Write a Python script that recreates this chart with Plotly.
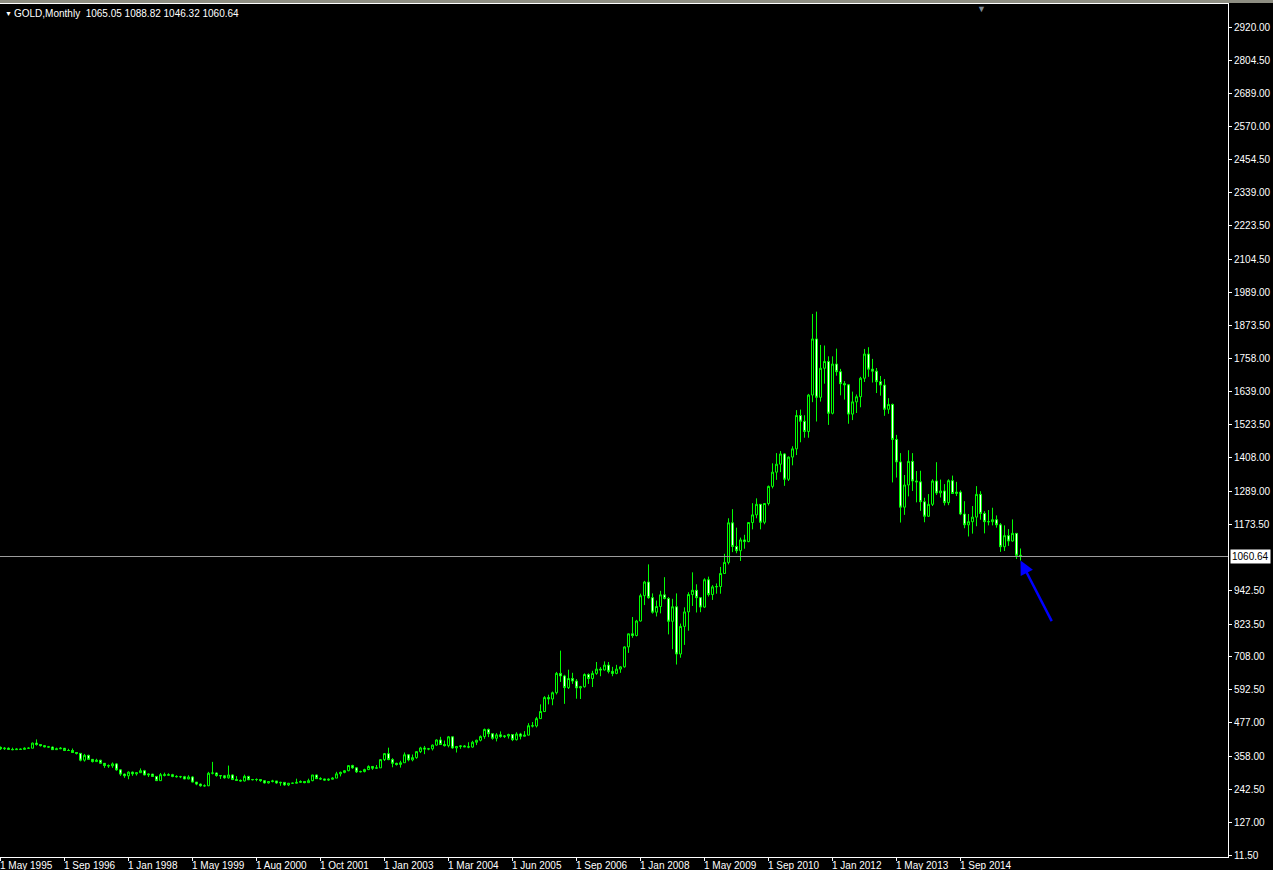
# GOLD monthly chart
# Candlestick figure in MetaTrader style
# ----------------------------------------------------------------------------------------------------------------------
# Library
# ----------------------------------------------------------------------------------------------------------------------
import plotly.graph_objects as go

# ----------------------------------------------------------------------------------------------------------------------
# Data definition (one value per monthly bar, first bar = May 1995)
# ----------------------------------------------------------------------------------------------------------------------
symbol = 'GOLD,Monthly'

open_ = [390, 385, 387, 383, 382, 384, 383, 387, 387, 405, 400, 396, 392, 391, 382, 385,
         387, 379, 379, 372, 369, 345, 362, 348, 340, 345, 334, 326, 325, 332, 311, 296,
         290, 303, 297, 301, 308, 293, 296, 288, 273, 294, 292, 294, 288, 287, 287, 279,
         286, 268, 261, 255, 255, 299, 300, 291, 290, 283, 293, 277, 274, 272, 288, 276,
         277, 277, 273, 265, 270, 272, 265, 267, 258, 264, 264, 267, 270, 266, 273, 293,
         280, 279, 275, 278, 282, 297, 302, 308, 326, 318, 304, 305, 312, 323, 317, 318,
         347, 368, 347, 334, 330, 336, 364, 346, 354, 375, 388, 384, 385, 398, 416, 400,
         396, 427, 388, 393, 395, 392, 391, 408, 415, 428, 453, 438, 422, 434, 428, 430,
         435, 417, 437, 429, 433, 466, 465, 491, 516, 565, 560, 582, 650, 641, 600, 632,
         623, 599, 603, 646, 632, 650, 665, 662, 679, 657, 650, 665, 673, 743, 789, 783,
         834, 923, 971, 916, 865, 885, 926, 913, 833, 884, 718, 815, 866, 927, 942, 916,
         883, 979, 927, 954, 955, 1001, 1040, 1179, 1096, 1081, 1119, 1113, 1180, 1207, 1244, 1181,
         1247, 1307, 1357, 1385, 1421, 1332, 1410, 1439, 1556, 1536, 1500, 1628, 1825, 1620, 1722, 1746,
         1564, 1737, 1710, 1668, 1664, 1561, 1604, 1622, 1687, 1772, 1719, 1712, 1675, 1663, 1578, 1595,
         1472, 1393, 1234, 1312, 1395, 1326, 1323, 1253, 1202, 1244, 1326, 1284, 1291, 1250, 1327, 1282,
         1287, 1210, 1172, 1183, 1199, 1279, 1212, 1183, 1183, 1190, 1172, 1095, 1134, 1115, 1142, 1065.05]

high = [393, 391, 390, 389, 387, 386, 390, 390, 407, 418, 401, 398, 395, 393, 389, 391,
        387, 385, 386, 373, 370, 367, 364, 348, 350, 346, 334, 330, 337, 335, 313, 298,
        306, 305, 302, 316, 311, 298, 297, 289, 300, 301, 299, 297, 292, 290, 290, 292,
        289, 268, 263, 260, 304, 339, 302, 292, 293, 326, 295, 289, 277, 294, 290, 279,
        281, 277, 275, 271, 276, 272, 269, 268, 265, 266, 280, 274, 271, 280, 293, 294,
        285, 280, 281, 285, 304, 305, 310, 327, 329, 321, 308, 315, 327, 324, 328, 349,
        370, 389, 352, 336, 343, 372, 366, 365, 377, 392, 395, 388, 400, 418, 427, 414,
        430, 428, 395, 398, 398, 408, 413, 417, 432, 456, 456, 438, 440, 446, 433, 438,
        436, 443, 441, 447, 475, 479, 497, 541, 570, 575, 586, 655, 730, 645, 663, 652,
        630, 606, 650, 650, 659, 690, 672, 692, 690, 673, 680, 675, 745, 790, 848, 838,
        930, 975, 1033, 931, 906, 940, 988, 918, 912, 931, 825, 882, 935, 1005, 963, 917,
        984, 990, 960, 966, 1024, 1070, 1195, 1227, 1162, 1127, 1137, 1181, 1248, 1265, 1244, 1247,
        1310, 1388, 1424, 1431, 1424, 1412, 1448, 1575, 1577, 1557, 1632, 1913, 1921, 1804, 1802, 1764,
        1764, 1791, 1720, 1677, 1666, 1640, 1630, 1692, 1790, 1796, 1755, 1723, 1695, 1684, 1617, 1598,
        1488, 1424, 1347, 1434, 1424, 1361, 1362, 1267, 1280, 1332, 1392, 1331, 1315, 1332, 1345, 1323,
        1293, 1255, 1210, 1238, 1308, 1290, 1220, 1224, 1232, 1205, 1178, 1170, 1157, 1191, 1142, 1088.82]

low = [381, 381, 381, 380, 381, 381, 382, 385, 387, 396, 393, 390, 389, 381, 381, 384,
       377, 378, 371, 365, 341, 340, 347, 337, 339, 334, 318, 318, 318, 308, 290, 283,
       278, 290, 291, 300, 292, 286, 286, 273, 272, 288, 290, 285, 284, 282, 278, 278,
       267, 257, 252, 252, 254, 295, 287, 279, 280, 280, 275, 274, 270, 270, 275, 274,
       271, 269, 263, 263, 267, 262, 255, 255, 254, 262, 263, 265, 264, 266, 271, 279,
       276, 273, 272, 277, 282, 288, 299, 306, 315, 300, 302, 302, 310, 311, 315, 318,
       342, 345, 320, 326, 319, 336, 341, 341, 350, 370, 366, 380, 379, 396, 399, 393,
       390, 385, 372, 385, 391, 387, 389, 398, 411, 420, 426, 417, 411, 424, 423, 421,
       412, 414, 418, 428, 432, 460, 460, 490, 514, 541, 538, 576, 620, 543, 595, 613,
       561, 560, 600, 613, 602, 645, 640, 660, 650, 640, 647, 652, 670, 722, 775, 780,
       832, 890, 912, 860, 850, 861, 910, 787, 735, 681, 705, 750, 800, 887, 864, 865,
       880, 920, 908, 930, 930, 1000, 1033, 1076, 1072, 1045, 1088, 1111, 1156, 1195, 1156, 1174,
       1240, 1300, 1330, 1357, 1309, 1326, 1381, 1417, 1462, 1478, 1478, 1603, 1535, 1605, 1668, 1523,
       1560, 1696, 1627, 1612, 1527, 1540, 1565, 1585, 1674, 1692, 1672, 1635, 1626, 1555, 1562, 1321,
       1338, 1180, 1207, 1272, 1291, 1251, 1221, 1181, 1200, 1238, 1277, 1268, 1240, 1241, 1281, 1273,
       1206, 1160, 1131, 1141, 1167, 1190, 1142, 1170, 1170, 1162, 1077, 1080, 1098, 1113, 1052, 1046.32]

close = [385, 387, 383, 382, 384, 383, 387, 387, 405, 400, 396, 392, 391, 382, 385, 387,
         379, 379, 372, 369, 345, 362, 348, 340, 345, 334, 326, 325, 332, 311, 296, 290,
         303, 297, 301, 308, 293, 296, 288, 273, 294, 292, 294, 288, 287, 287, 279, 286,
         268, 261, 255, 255, 299, 300, 291, 290, 283, 293, 277, 274, 272, 288, 276, 277,
         277, 273, 265, 270, 272, 265, 267, 258, 264, 264, 267, 270, 266, 273, 293, 280,
         279, 275, 278, 282, 297, 302, 308, 326, 318, 304, 305, 312, 323, 317, 318, 347,
         368, 347, 334, 330, 336, 364, 346, 354, 375, 388, 384, 385, 398, 416, 400, 396,
         427, 388, 393, 395, 392, 391, 408, 415, 428, 453, 438, 422, 434, 428, 430, 435,
         417, 437, 429, 433, 466, 465, 491, 516, 565, 560, 582, 650, 641, 600, 632, 623,
         599, 603, 646, 632, 650, 665, 662, 679, 657, 650, 665, 673, 743, 789, 783, 834,
         923, 971, 916, 865, 885, 926, 913, 833, 884, 718, 815, 866, 927, 942, 916, 883,
         979, 927, 954, 955, 1001, 1040, 1179, 1096, 1081, 1119, 1113, 1180, 1207, 1244, 1181, 1247,
         1307, 1357, 1385, 1421, 1332, 1410, 1439, 1556, 1536, 1500, 1628, 1825, 1620, 1722, 1746, 1564,
         1737, 1710, 1668, 1664, 1561, 1604, 1622, 1687, 1772, 1719, 1712, 1675, 1663, 1578, 1595, 1472,
         1393, 1234, 1312, 1395, 1326, 1323, 1253, 1202, 1244, 1326, 1284, 1291, 1250, 1327, 1282, 1287,
         1210, 1172, 1183, 1199, 1279, 1212, 1183, 1183, 1190, 1172, 1095, 1134, 1115, 1142, 1065, 1060.64]

# Time axis labels (bar number -> date text)
xtick_bars = [0, 16, 32, 48, 64, 80, 96, 112, 128, 144, 160, 176, 192, 208, 224, 240]
xtick_text = ['1 May 1995', '1 Sep 1996', '1 Jan 1998', '1 May 1999', '1 Aug 2000', '1 Oct 2001',
              '1 Jan 2003', '1 Mar 2004', '1 Jun 2005', '1 Sep 2006', '1 Jan 2008', '1 May 2009',
              '1 Sep 2010', '1 Jan 2012', '1 May 2013', '1 Sep 2014']

# Price axis labels
ytick_vals = [2920.00, 2804.50, 2689.00, 2570.00, 2454.50, 2339.00, 2223.50, 2104.50, 1989.00,
              1873.50, 1758.00, 1639.00, 1523.50, 1408.00, 1289.00, 1173.50, 942.50, 823.50,
              708.00, 592.50, 477.00, 358.00, 242.50, 127.00, 11.50]

# ----------------------------------------------------------------------------------------------------------------------
# Figure
# ----------------------------------------------------------------------------------------------------------------------
bars = list(range(len(close)))
font_name = 'Liberation Sans'
candle_green = '#00ff00'

fig = go.Figure()
fig.add_trace(go.Candlestick(x=bars, open=open_, high=high, low=low, close=close,
                             increasing=dict(line=dict(color=candle_green, width=1), fillcolor='black'),
                             decreasing=dict(line=dict(color=candle_green, width=1), fillcolor='white'),
                             whiskerwidth=0, hoverinfo='x+y'))

# Current price line
fig.add_hline(y=close[-1], line_color='#9c9c9c', line_width=1)

# 4 px per bar, body 2 px + 1 px outline (boxgroupgap also shrinks candles, so set it to 0)
fig.update_layout(width=1273, height=870, margin=dict(l=0, r=45, t=4, b=13),
                  paper_bgcolor='black', plot_bgcolor='black', showlegend=False,
                  boxgap=0.5, boxgroupgap=0,
                  font=dict(family=font_name, size=10, color='white'))

# Update xaxis, yaxis properties
fig.update_xaxes(range=[-0.125, 306.875], rangeslider_visible=False, showgrid=False, zeroline=False,
                 showline=True, linecolor='white', linewidth=1, mirror=True,
                 ticks='outside', ticklen=3, tickcolor='white', tickvals=xtick_bars, showticklabels=False)
fig.update_yaxes(range=[4.8, 3002], side='right', showgrid=False, zeroline=False,
                 showline=True, linecolor='white', linewidth=1,
                 ticks='outside', ticklen=3, tickcolor='white',
                 tickvals=ytick_vals, ticktext=[f'{v:.2f}' for v in ytick_vals],
                 tickfont=dict(family=font_name, size=10, color='white'))

# Date labels written left aligned from their tick, like the terminal does
for bar, label in zip(xtick_bars, xtick_text):
    fig.add_annotation(x=bar, y=0, xref='x', yref='paper', text=label, showarrow=False,
                       xanchor='left', yanchor='top', yshift=-1, xshift=-3,
                       font=dict(family=font_name, size=10, color='white'))

# Price box of the last close
fig.add_annotation(x=1, y=close[-1], xref='paper', yref='y', text=f'{close[-1]:.2f}', showarrow=False,
                   xanchor='left', yanchor='middle', xshift=2, bgcolor='white', borderpad=1,
                   font=dict(family=font_name, size=10, color='black'))

# Header with symbol and last OHLC
fig.add_annotation(x=0, y=1, xref='paper', yref='paper', text='▼', showarrow=False,
                   xanchor='left', yanchor='top', xshift=3, yshift=-4,
                   font=dict(family=font_name, size=7, color='white'))
fig.add_annotation(x=0, y=1, xref='paper', yref='paper',
                   text=f'{symbol}  {open_[-1]:.2f} {high[-1]:.2f} {low[-1]:.2f} {close[-1]:.2f}',
                   showarrow=False, xanchor='left', yanchor='top', xshift=12, yshift=-2,
                   font=dict(family=font_name, size=10, color='white'))

# Chart shift marker
fig.add_annotation(x=981 / 1228, y=1, xref='paper', yref='paper', text='▼', showarrow=False,
                   xanchor='center', yanchor='top', yshift=2,
                   font=dict(family=font_name, size=9, color='#7f8a96'))

# Window top strip
fig.add_shape(type='rect', xref='paper', yref='paper', x0=0, x1=1.04, y0=1 + 1 / 853, y1=1 + 4.5 / 853,
              fillcolor='#8e8e82', line_width=0, layer='above')

# Blue arrow pointing at the last bar
fig.add_annotation(x=bars[-1], y=low[-1], xref='x', yref='y', text='', showarrow=True,
                   ax=32, ay=62, arrowcolor='#0000ff', arrowwidth=2.5, arrowhead=2, arrowsize=1.1)

# Page without body margin so the chart fills the window
fig.write_html('out.html', post_script="document.body.style.margin='0px';",
               config={'displayModeBar': False})
